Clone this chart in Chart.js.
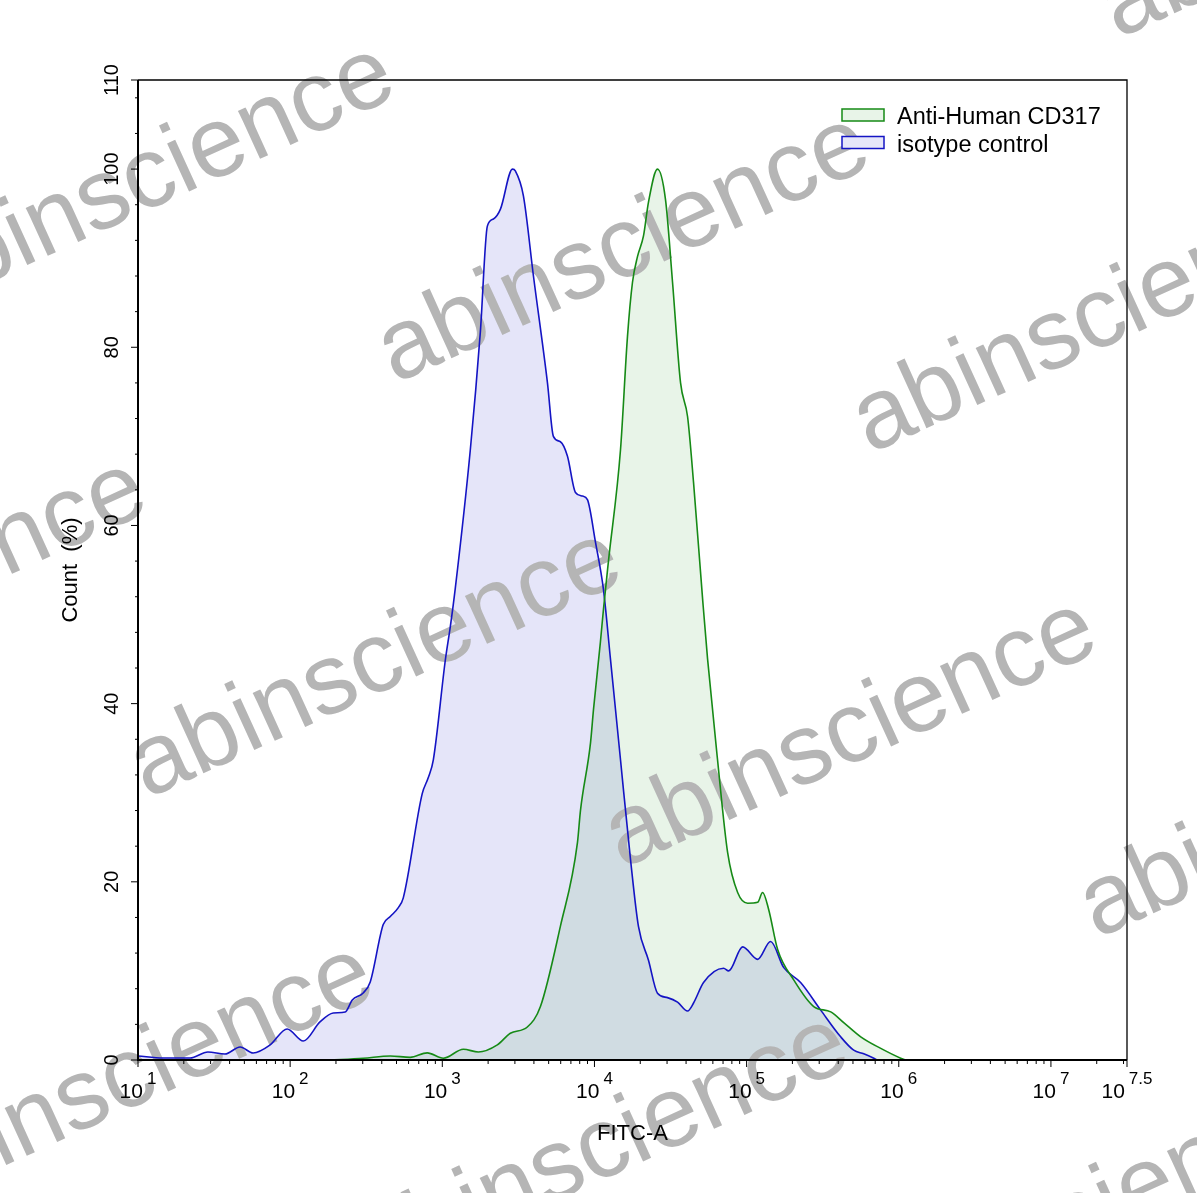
<!DOCTYPE html>
<html>
<head>
<meta charset="utf-8">
<script src="https://cdn.jsdelivr.net/npm/chart.js@4.4.1/dist/chart.umd.min.js"></script>
<style>
  html, body { margin: 0; padding: 0; background: #fff; }
  #wrap { width: 1197px; height: 1193px; position: relative; }
</style>
</head>
<body>
<div id="wrap"><canvas id="facsChart"></canvas></div>
<script>
// histogram values (FITC-A intensity, Count %)
const cd317Fitc = [183, 302, 455, 615, 796, 1016, 1375, 1726, 2300, 2800, 3620, 4415, 5970, 7730, 8090, 9420, 9850,
  10940, 11460, 12360, 14830, 16480, 17780, 19190, 21000, 22650, 25950, 29290, 32590, 36800, 40930, 44800, 51400,
  55400, 64400, 75000, 87300, 101600, 118100, 127400, 139600, 159900, 203800, 276100, 357400, 434600, 562300,
  761600, 1030000, 1110000];
const cd317Count = [0, 0.2, 0.45, 0.3, 0.8, 0.2, 1.2, 0.9, 1.7, 3, 3.7, 6, 15, 24.4, 28, 35.6, 39.3,
  46.9, 50.6, 56, 68.5, 81.2, 87.3, 90.2, 92.5, 96.3, 100, 96.6, 87.3, 76, 72.2, 64.8, 51.7,
  45, 33.7, 23.3, 18.8, 17.6, 17.7, 18.8, 16.9, 12.4, 9, 6, 5.4, 4.2, 2.6,
  1.3, 0.2, 0];

const isoFitc = [10, 14.6, 22, 28.8, 37.3, 46.9, 57.1, 73.8, 95.5, 122, 157, 192, 230, 256, 302, 336, 409, 455, 514,
  554, 738, 809, 873, 1047, 1130, 1218, 1528, 1778, 1977, 2168, 2410, 2891, 3020, 3412, 3972, 4910, 5370,
  5970, 6640, 7500, 8340, 8990, 10160, 11460, 12740, 14830, 17260, 19460, 22650, 25950, 30200, 35160, 40930,
  44800, 52100, 70600, 76200, 94200, 118100, 143800, 175000, 226400, 306900, 415000, 505600, 588700, 685500, 720000];
const isoCount = [0.45, 0.22, 0.22, 0.9, 0.67, 1.46, 0.79, 1.69, 3.48, 2.13, 4.27, 5.28, 5.39, 6.74, 7.53, 8.76, 15.2, 16.1, 17.1,
  18.2, 29.9, 31.7, 33.7, 44.9, 48.7, 53, 68.5, 81.7, 93.6, 94.4, 95.5, 100, 99.8, 97, 88, 76, 70,
  69.4, 67.8, 63.7, 63.3, 62.9, 58.1, 52.8, 45, 33.7, 22.5, 15, 11.2, 7.5, 7, 6.5, 5.5,
  6.4, 8.7, 10.3, 10, 12.7, 11.3, 13.3, 10.4, 8.7, 5.6, 2.6, 1.1, 0.7, 0.2, 0];

const seriesNames = ['Anti-Human CD317', 'isotype control'];
const xTickExp = [1, 2, 3, 4, 5, 6, 7, 7.5];      // labels 10^n
const yTickLabels = [0, 20, 40, 60, 80, 100, 110];
const yMinorStep = 4;
const xTitle = 'FITC-A';
const yTitle = 'Count  (%)';
const watermark = 'abinscience';

const FONT = '"Liberation Sans", Arial, sans-serif';

function toPoints(xs, ys) {
  return xs.map((x, i) => ({ x: x, y: ys[i] }));
}

const facsAxes = {
  id: 'facsAxes',
  beforeDraw(chart) {
    const c = chart.ctx;
    c.save();
    c.fillStyle = '#fff';
    c.fillRect(0, 0, chart.width, chart.height);
    c.restore();
  },
  beforeDatasetsDraw(chart) {
    // grey watermark lattice, over the fills, under the lines
    const c = chart.ctx;
    c.save();
    c.fillStyle = '#b5b5b5';
    c.font = '100px ' + FONT;
    c.textAlign = 'left';
    c.textBaseline = 'alphabetic';
    for (let i = -3; i <= 4; i++) {
      for (let j = -2; j <= 3; j++) {
        const px = 395 + i * 475 - j * 248;
        const py = 384 + i * 70 + j * 415;
        if (px < -600 || px > 1300 || py < -60 || py > 1500) continue;
        c.save();
        c.translate(px, py);
        c.rotate(-24.5 * Math.PI / 180);
        c.fillText(watermark, 0, 0);
        c.restore();
      }
    }
    c.restore();
  },
  afterDraw(chart) {
    const c = chart.ctx, xs = chart.scales.x, ys = chart.scales.y, a = chart.chartArea;
    c.save();
    c.strokeStyle = '#000';
    c.fillStyle = '#000';

    // frame
    c.lineWidth = 1.3;
    c.beginPath();
    c.moveTo(a.left, a.top); c.lineTo(a.right, a.top); c.lineTo(a.right, a.bottom);
    c.stroke();
    c.lineWidth = 2;
    c.beginPath();
    c.moveTo(a.left, a.top); c.lineTo(a.left, a.bottom); c.lineTo(a.right, a.bottom);
    c.stroke();

    // y ticks
    c.lineWidth = 1;
    c.beginPath();
    for (let v = 0; v <= ys.max; v += yMinorStep) {
      const py = ys.getPixelForValue(v);
      const len = v % 20 === 0 ? 7 : 3;
      c.moveTo(a.left - len, py); c.lineTo(a.left, py);
    }
    c.moveTo(a.left - 7, ys.getPixelForValue(ys.max)); c.lineTo(a.left, ys.getPixelForValue(ys.max));
    c.stroke();

    // x ticks (log decades + minor)
    c.beginPath();
    for (let e = 1; e <= 7; e++) {
      for (let k = 2; k <= 9; k++) {
        const v = k * Math.pow(10, e);
        if (v > xs.max) break;
        const px = xs.getPixelForValue(v);
        c.moveTo(px, a.bottom); c.lineTo(px, a.bottom + 4);
      }
    }
    xTickExp.forEach(e => {
      const px = xs.getPixelForValue(Math.pow(10, e));
      c.moveTo(px, a.bottom); c.lineTo(px, a.bottom + 7);
    });
    c.stroke();

    // y labels, rotated
    c.font = '20px ' + FONT;
    c.textAlign = 'center';
    c.textBaseline = 'middle';
    yTickLabels.forEach(v => {
      c.save();
      c.translate(112, ys.getPixelForValue(v));
      c.rotate(-Math.PI / 2);
      c.fillText(String(v), 0, 0);
      c.restore();
    });

    // x labels 10^n
    c.textAlign = 'left';
    c.textBaseline = 'alphabetic';
    xTickExp.forEach(e => {
      const px = xs.getPixelForValue(Math.pow(10, e));
      c.font = '21px ' + FONT;
      const w1 = c.measureText('10').width;
      c.font = '17px ' + FONT;
      const sup = String(e);
      const w2 = c.measureText(sup).width;
      const gap = 4;
      const x0 = px - (w1 + gap + w2) / 2;
      c.font = '21px ' + FONT;
      c.fillText('10', x0, a.bottom + 38);
      c.font = '17px ' + FONT;
      c.fillText(sup, x0 + w1 + gap, a.bottom + 24);
    });

    // axis titles
    c.font = '22px ' + FONT;
    c.textAlign = 'center';
    c.fillText(xTitle, (a.left + a.right) / 2, a.bottom + 80);
    c.save();
    c.translate(71, (a.top + a.bottom) / 2);
    c.rotate(-Math.PI / 2);
    c.textBaseline = 'middle';
    c.fillText(yTitle, 0, 0);
    c.restore();

    // legend, top right inside the plot
    c.font = '23.5px ' + FONT;
    c.textAlign = 'left';
    c.textBaseline = 'alphabetic';
    chart.data.datasets.forEach((ds, i) => {
      const by = 109 + i * 27.5;
      c.fillStyle = ds.legendFill;
      c.fillRect(842, by, 42, 12);
      c.strokeStyle = ds.borderColor;
      c.lineWidth = 1.5;
      c.strokeRect(842, by, 42, 12);
      c.fillStyle = '#000';
      c.fillText(ds.label, 897, by + 15);
    });
    c.restore();
  }
};

new Chart(document.getElementById('facsChart'), {
  type: 'line',
  data: {
    datasets: [
      {
        label: seriesNames[0],
        data: toPoints(cd317Fitc, cd317Count),
        borderColor: '#168a16',
        backgroundColor: 'rgba(0,128,0,0.09)',
        legendFill: '#e8f4e8',
        borderWidth: 1.6,
        fill: 'origin',
        pointRadius: 0,
        cubicInterpolationMode: 'monotone'
      },
      {
        label: seriesNames[1],
        data: toPoints(isoFitc, isoCount),
        borderColor: '#1414c4',
        backgroundColor: 'rgba(0,0,200,0.1)',
        legendFill: '#e6e6f9',
        borderWidth: 1.6,
        fill: 'origin',
        pointRadius: 0,
        cubicInterpolationMode: 'monotone'
      }
    ]
  },
  options: {
    responsive: true,
    maintainAspectRatio: false,
    animation: false,
    devicePixelRatio: 1,
    events: [],
    layout: { padding: { left: 138, right: 70, top: 80, bottom: 133 } },
    plugins: {
      legend: { display: false },
      tooltip: { enabled: false },
      filler: { drawTime: 'beforeDatasetsDraw' }
    },
    scales: {
      x: { type: 'logarithmic', min: 10, max: Math.pow(10, 7.5), display: false },
      y: { type: 'linear', min: 0, max: 110, display: false }
    }
  },
  plugins: [facsAxes]
});
</script>
</body>
</html>
